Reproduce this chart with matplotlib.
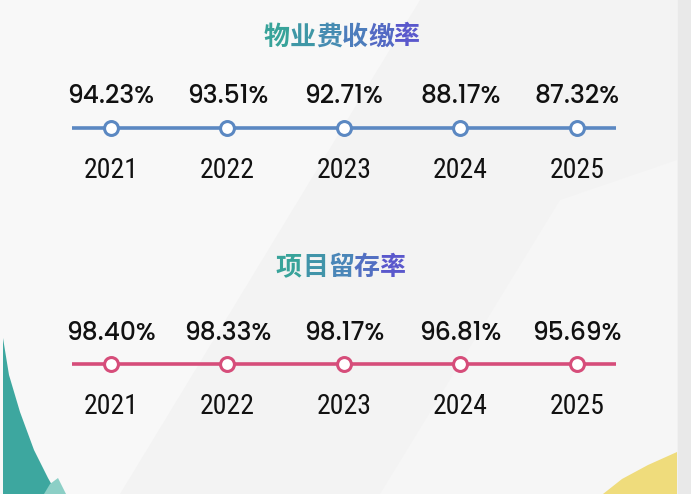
import numpy as np
import matplotlib
matplotlib.use("Agg")
import matplotlib.pyplot as plt
from matplotlib.patches import Polygon, Rectangle
from matplotlib.colors import LinearSegmentedColormap

# data
years = ["2021", "2022", "2023", "2024", "2025"]
fee_rate = [94.23, 93.51, 92.71, 88.17, 87.32]        # 物业费收缴率
retention_rate = [98.40, 98.33, 98.17, 96.81, 95.69]  # 项目留存率
titles = ["物业费收缴率", "项目留存率"]

W, H = 691, 494
fig = plt.figure(figsize=(W / 100, H / 100), dpi=100)

# background layer in pixel units
bg = fig.add_axes([0, 0, 1, 1])
bg.set_xlim(0, W)
bg.set_ylim(H, 0)
bg.axis("off")
bg.add_patch(Rectangle((0, 0), W, H, color="#f3f3f3", zorder=0))
bg.add_patch(Polygon([(0, 0), (420, 0), (120, 494), (0, 494)], color="#f8f8f8", zorder=0.5, lw=0))
bg.add_patch(Polygon([(380, 494), (560, 200), (677, 160), (677, 494)], color="#f6f6f6", zorder=0.5, lw=0))
bg.add_patch(Rectangle((678, 0), 13, H, color="#e9e9e9", zorder=0.6))
# teal swoosh bottom-left
bg.add_patch(Polygon([(3, 338), (9, 375), (20, 412), (34, 450), (48, 478), (57, 494), (3, 494)],
                     color="#3da79f", lw=0, zorder=1))
bg.add_patch(Polygon([(44, 494), (50, 484), (58, 478), (66, 494)], color="#8ccfc6", lw=0, zorder=1.1))
# yellow corner bottom-right
bg.add_patch(Polygon([(603, 494), (622, 479), (648, 465), (677, 452), (677, 494)],
                     color="#efdc7c", lw=0, zorder=1))

title_cmap = LinearSegmentedColormap.from_list("t", ["#38a39a", "#4a86b8", "#5a58cc"])
title_px = 26  # CJK glyphs are one em wide


def gradient_title(text, cx, cy):
    n = len(text)
    for k, ch in enumerate(text):
        x = cx + (k - (n - 1) / 2) * title_px
        bg.text(x, cy, ch, ha="center", va="center", fontsize=title_px * 0.72,
                family=["Noto Sans CJK SC", "DejaVu Sans"], weight="bold",
                color=title_cmap(k / (n - 1)), zorder=5)


gradient_title(titles[0], 342, 37)
gradient_title(titles[1], 341, 267)

# timeline layer: x in category index, y in pixels
ax = fig.add_axes([0, 0, 1, 1])
ax.patch.set_alpha(0)
ax.axis("off")
step = 116.5
ax.set_xlim(-111 / step, (W - 111) / step)
ax.set_ylim(H, 0)

idx = np.arange(len(years))
val_font = dict(family=["Poppins", "DejaVu Sans"], weight=500, size=18, color="#111111")
year_font = dict(family=["Roboto Condensed", "DejaVu Sans"], weight=400, size=20, color="#111111")


def timeline(values, line_y, value_base, year_base, color):
    ax.plot([-0.335, idx[-1] + 0.335], [line_y, line_y], color=color, lw=2.6,
            solid_capstyle="butt", zorder=2)
    ax.plot(idx, [line_y] * len(idx), ls="none", marker="o", ms=10, mew=2.2,
            mfc="white", mec=color, zorder=3)
    for i, v in enumerate(values):
        ax.text(i, value_base, f"{v:.2f}%", ha="center", va="baseline", **val_font)
        ax.text(i, year_base, years[i], ha="center", va="baseline", **year_font)


timeline(fee_rate, 128, 103, 178, "#5b88c2")
timeline(retention_rate, 364, 340, 414, "#d64d7a")

fig.savefig("out.png", dpi=100)
